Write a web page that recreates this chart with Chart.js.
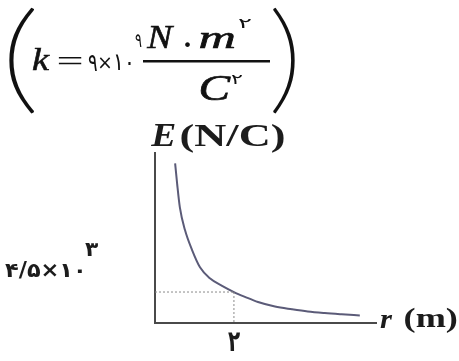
<!DOCTYPE html>
<html lang="fa">
<head>
<meta charset="UTF-8" />
<title>E - r</title>
<script src="https://cdn.jsdelivr.net/npm/chart.js"></script>
<style>
  html, body { margin: 0; padding: 0; background: #fff; }
  #wrap { width: 459px; height: 361px; position: relative; }
</style>
</head>
<body>
<div id="wrap"><canvas id="fieldChart"></canvas></div>
<script>
// distance from the charge (m) and field strength (x10^3 N/C) along the curve
const rValues = [0.51, 0.56, 0.63, 0.76, 0.94, 1.14, 1.39, 1.70, 2, 2.28, 2.61, 3.04, 3.47, 3.87, 4.30, 4.73, 5.19];
const eValues = [23.2, 20.3, 16.8, 13.5, 10.6, 8.1, 6.5, 5.4, 4.5, 3.8, 3.05, 2.4, 2.0, 1.68, 1.45, 1.27, 1.1];

// marked reading on the curve
const markR = 2;
const markE = 4.5;
const markRLabel = '۲';
const markELabel = '۴/۵×۱۰';
const markEPower = '۳';

const axisMax = { r: 5.6, e: 24.7 };

const serif = '"Liberation Serif", "DejaVu Serif", serif';
const sans = '"DejaVu Sans", sans-serif';
const ink = '#1c1c1c';

// draws a string so that its ink fills the given box
// (outline > 0 thickens thin glyphs a little)
function inkText(ctx, str, font, x0, y0, x1, y1, outline) {
  ctx.save();
  ctx.font = font;
  ctx.textAlign = 'left';
  ctx.textBaseline = 'alphabetic';
  const m = ctx.measureText(str);
  const w = m.actualBoundingBoxLeft + m.actualBoundingBoxRight;
  const h = m.actualBoundingBoxAscent + m.actualBoundingBoxDescent;
  ctx.translate(x0, y0);
  ctx.scale((x1 - x0) / w, (y1 - y0) / h);
  ctx.fillText(str, m.actualBoundingBoxLeft, m.actualBoundingBoxAscent);
  if (outline) {
    ctx.strokeStyle = ctx.fillStyle;
    ctx.lineWidth = outline;
    ctx.strokeText(str, m.actualBoundingBoxLeft, m.actualBoundingBoxAscent);
  }
  ctx.restore();
}

const markLines = {
  id: 'markLines',
  afterDatasetsDraw(chart) {
    const { ctx, scales: { x, y } } = chart;
    const px = x.getPixelForValue(markR);
    const py = y.getPixelForValue(markE);
    ctx.save();
    ctx.strokeStyle = '#8a8a8a';
    ctx.lineWidth = 1;
    ctx.setLineDash([2, 2]);
    ctx.beginPath();
    ctx.moveTo(x.getPixelForValue(0), py);
    ctx.lineTo(px, py);
    ctx.moveTo(px, py);
    ctx.lineTo(px, y.getPixelForValue(0));
    ctx.stroke();
    ctx.restore();

    ctx.save();
    ctx.fillStyle = ink;
    // tick label under the axis
    inkText(ctx, markRLabel, 'bold 20px ' + sans, px - 6, 332, px + 6, 351);
    // value label on the left, a little above its line
    inkText(ctx, markELabel, 'bold 18px ' + sans, 5, py - 30, 83, py - 13);
    inkText(ctx, markEPower, 'bold 14px ' + sans, 85, py - 49, 99, py - 36);
    ctx.restore();
  }
};

const axisTitles = {
  id: 'axisTitles',
  afterDraw(chart) {
    const ctx = chart.ctx;
    ctx.save();
    ctx.fillStyle = ink;
    inkText(ctx, 'E', 'italic bold 30px ' + serif, 150, 125, 175, 146);
    inkText(ctx, '(N/C)', 'bold 30px ' + serif, 181, 123, 284, 153);
    inkText(ctx, 'r', 'italic bold 26px ' + serif, 380, 315, 393, 328);
    inkText(ctx, '(m)', 'bold 26px ' + serif, 405, 307, 457, 333);
    ctx.restore();
  }
};

// the constant written above the graph
const formula = {
  id: 'formula',
  afterDraw(chart) {
    const ctx = chart.ctx;
    ctx.save();
    ctx.fillStyle = '#111';
    inkText(ctx, '(', '200 100px Lato, ' + sans, 10, 7, 33, 113, 1.6);
    inkText(ctx, 'k', 'italic 34px ' + serif, 32, 47, 50, 70, 0.6);
    inkText(ctx, '=', '34px ' + serif, 58, 57, 82, 65);
    inkText(ctx, '۹', '20px ' + sans, 88, 55, 97, 71);
    inkText(ctx, '×', '20px ' + sans, 99, 57, 111, 69);
    inkText(ctx, '۱۰', '20px ' + sans, 115, 54, 131, 70);
    inkText(ctx, '۹', '13px ' + sans, 135, 35, 142, 47);
    inkText(ctx, 'N', 'italic 32px ' + serif, 146, 26, 174, 48, 0.6);
    inkText(ctx, '.', '32px ' + serif, 185, 42, 190, 47);
    inkText(ctx, 'm', 'italic 32px ' + serif, 200, 33, 234, 48, 0.6);
    inkText(ctx, '۲', '13px ' + sans, 238, 18, 252, 28);
    ctx.fillRect(143, 60, 127, 2.5);
    inkText(ctx, 'C', 'italic 32px ' + serif, 200, 76, 231, 100, 0.6);
    inkText(ctx, '۲', '13px ' + sans, 231, 74, 243, 84);
    inkText(ctx, ')', '200 100px Lato, ' + sans, 274, 7, 294, 113, 1.6);
    ctx.restore();
  }
};

const points = rValues.map((r, i) => ({ x: r, y: eValues[i] }));

new Chart(document.getElementById('fieldChart'), {
  type: 'line',
  data: {
    datasets: [{
      data: points,
      borderColor: '#5b5b78',
      borderWidth: 2,
      pointRadius: 0,
      fill: false,
      cubicInterpolationMode: 'monotone'
    }]
  },
  options: {
    responsive: true,
    maintainAspectRatio: false,
    animation: false,
    layout: { padding: { left: 155, top: 153, right: 83, bottom: 38 } },
    plugins: { legend: { display: false }, tooltip: { enabled: false } },
    scales: {
      x: {
        type: 'linear',
        min: 0,
        max: axisMax.r,
        grid: { display: false, drawTicks: false },
        ticks: { display: false },
        border: { display: true, color: '#4a4a4a', width: 2 }
      },
      y: {
        type: 'linear',
        min: 0,
        max: axisMax.e,
        grid: { display: false, drawTicks: false },
        ticks: { display: false },
        border: { display: true, color: '#4a4a4a', width: 2 }
      }
    }
  },
  plugins: [markLines, axisTitles, formula]
});
</script>
</body>
</html>
